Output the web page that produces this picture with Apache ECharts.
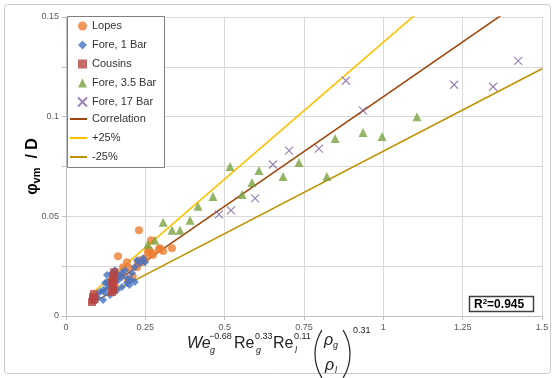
<!DOCTYPE html>
<html>
<head>
<meta charset="utf-8">
<script src="https://cdn.jsdelivr.net/npm/echarts@6/dist/echarts.min.js"></script>
<style>
  html, body { margin: 0; padding: 0; background: #fff; }
  #chart { width: 555px; height: 378px; }
</style>
</head>
<body>
<div id="chart"></div>
<script>
// data: [x, phi/D]
var lopes = [[0.149,0.013],[0.154,0.015],[0.17,0.0205],[0.18,0.0245],[0.195,0.018],[0.192,0.027],
  [0.164,0.030],[0.2,0.024],[0.224,0.0245],[0.227,0.027],[0.233,0.028],[0.23,0.043],[0.252,0.029],
  [0.258,0.032],[0.262,0.033],[0.268,0.038],[0.271,0.0316],[0.274,0.0306],[0.293,0.0336],
  [0.306,0.0326],[0.296,0.034],[0.334,0.034],[0.21,0.020],[0.24,0.027]];
var fore1 = [[0.10,0.009],[0.107,0.012],[0.117,0.008],[0.117,0.013],[0.123,0.0115],[0.123,0.0166],
  [0.129,0.0206],[0.129,0.017],[0.132,0.014],[0.139,0.0105],[0.145,0.0216],[0.148,0.018],[0.154,0.023],
  [0.161,0.0206],[0.161,0.013],[0.176,0.0196],[0.176,0.0146],[0.176,0.0216],[0.186,0.023],[0.192,0.0166],
  [0.195,0.019],[0.2,0.0156],[0.205,0.018],[0.208,0.0216],[0.217,0.0246],[0.217,0.017],[0.224,0.028],
  [0.233,0.0266],[0.243,0.029],[0.249,0.027],[0.14,0.016],[0.165,0.018]];
var cousins = [[0.082,0.007],[0.085,0.008],[0.085,0.0095],[0.088,0.011],[0.09,0.0085],[0.145,0.012],
  [0.148,0.014],[0.148,0.016],[0.15,0.018],[0.148,0.02],[0.152,0.022],[0.145,0.017],[0.15,0.013]];
var fore35 = [[0.258,0.036],[0.28,0.038],[0.306,0.047],[0.334,0.043],[0.359,0.043],[0.391,0.048],
  [0.416,0.055],[0.463,0.06],[0.517,0.075],[0.555,0.061],[0.586,0.067],[0.608,0.073],[0.684,0.070],
  [0.734,0.077],[0.822,0.070],[0.848,0.089],[0.936,0.092],[0.996,0.090],[1.106,0.100]];
var fore17 = [[0.482,0.051],[0.52,0.053],[0.596,0.059],[0.652,0.076],[0.703,0.083],[0.797,0.084],
  [0.882,0.118],[0.936,0.103],[1.223,0.116],[1.346,0.115],[1.425,0.128]];
var correlation = [[0.08,0.0088],[1.5,0.165]];
var plus25 = [[0.08,0.011],[1.5,0.206]];
var minus25 = [[0.08,0.0066],[1.5,0.124]];

var font = 'Liberation Sans, Arial, sans-serif';
var crossPath = 'path://M0,0L10,10M10,0L0,10';

var chart = echarts.init(document.getElementById('chart'));

function scatter(name, data, symbol, size, color) {
  return {
    name: name, type: 'scatter', data: data, symbol: symbol, symbolSize: size,
    itemStyle: { color: color }
  };
}
function line(name, data, color) {
  return {
    name: name, type: 'line', data: data, symbol: 'none', clip: true,
    lineStyle: { color: color, width: 1.6 }, itemStyle: { color: color }, z: 1
  };
}
// small helper for the pieces of the x axis formula
function txt(s, x, y, f) {
  return { type: 'text', x: x, y: y, silent: true,
    style: { text: s, font: f + ' ' + font, fill: '#222', verticalAlign: 'top', align: 'left' } };
}

var legendText = { fontSize: 11, color: '#333', fontFamily: font, lineHeight: 14 };

option = {
  animation: false,
  textStyle: { fontFamily: font },
  grid: { left: 66, right: 13, top: 17, bottom: 62 },
  legend: [{
    orient: 'vertical', left: 77, top: 19, padding: 0,
    itemGap: 5, itemWidth: 9, itemHeight: 9,
    textStyle: legendText,
    data: ['Lopes', 'Fore, 1 Bar', 'Cousins', 'Fore, 3.5 Bar', 'Fore, 17 Bar']
  }, {
    orient: 'vertical', left: 70, top: 112, padding: 0,
    itemGap: 5, itemWidth: 17, itemHeight: 2, icon: 'rect',
    textStyle: legendText,
    data: ['Correlation', '+25%', '-25%']
  }],
  xAxis: {
    type: 'value', min: 0, max: 1.5, interval: 0.25,
    axisLine: { lineStyle: { color: '#bfbfbf' } },
    axisTick: { show: true, length: 4, lineStyle: { color: '#bfbfbf' } },
    axisLabel: { fontSize: 9, color: '#595959', margin: 7 },
    splitLine: { lineStyle: { color: '#d9d9d9' } }
  },
  yAxis: {
    type: 'value', min: 0, max: 0.15, interval: 0.025,
    axisLine: { show: true, lineStyle: { color: '#bfbfbf' } },
    axisTick: { show: true, length: 4, lineStyle: { color: '#bfbfbf' } },
    axisLabel: {
      fontSize: 9, color: '#595959', margin: 7,
      formatter: function (v) {
        return Math.round(v * 1000) % 50 === 0 ? String(Math.round(v * 100) / 100) : '';
      }
    },
    splitLine: { lineStyle: { color: '#d9d9d9' } },
    name: '{a|φ}{s|vm}{a|  / D}', nameLocation: 'middle', nameGap: 24, nameMoveOverlap: false,
    nameTextStyle: {
      rich: {
        a: { fontSize: 16, fontWeight: 'bold', color: '#000', fontFamily: font },
        s: { fontSize: 11, fontWeight: 'bold', color: '#000', fontFamily: font, padding: [8, 0, 0, 0] }
      }
    }
  },
  graphic: [
    { type: 'rect', shape: { x: 4.5, y: 4.5, width: 546, height: 369, r: 3 },
      style: { fill: 'none', stroke: '#c8c8c8', lineWidth: 1 }, silent: true, z: -10 },
    // legend frame
    { type: 'rect', shape: { x: 67.5, y: 16.5, width: 97, height: 151 },
      style: { fill: '#fff', stroke: '#7f7f7f', lineWidth: 1 }, silent: true, z: 3 },
    { type: 'rect', shape: { x: 469.5, y: 296.5, width: 64, height: 15 },
      style: { fill: '#fff', stroke: '#404040', lineWidth: 1.5 }, z: 100 },
    { type: 'text', left: 474, top: 298, z: 101,
      style: { text: '{a|R}{s|2}{a|=0.945}', fontFamily: font,
        rich: { a: { fontSize: 12, fontWeight: 'bold', fill: '#000' },
                s: { fontSize: 8, fontWeight: 'bold', fill: '#000', padding: [0, 0, 6, 0] } } } },
    // x axis title
    txt('We', 187, 336, 'italic 16px'),
    txt('−0.68', 209, 332, '9px'),
    txt('g', 210, 346, 'italic 9px'),
    txt('Re', 234, 336, '16px'),
    txt('0.33', 255, 332, '9px'),
    txt('g', 256, 346, 'italic 9px'),
    txt('Re', 273, 336, '16px'),
    txt('0.11', 294, 332, '9px'),
    txt('l', 295, 346, 'italic 9px'),
    { type: 'arc', silent: true, shape: { cx: 360, cy: 354, r: 45, startAngle: Math.PI - 0.56, endAngle: Math.PI + 0.56 },
      style: { stroke: '#222', lineWidth: 1.2, fill: 'none' } },
    txt('ρ', 324, 333, 'italic 16px'),
    txt('g', 333, 341, 'italic 9px'),
    txt('ρ', 325, 358, 'italic 16px'),
    txt('l', 335, 366, 'italic 9px'),
    { type: 'arc', silent: true, shape: { cx: 305, cy: 354, r: 45, startAngle: -0.56, endAngle: 0.56 },
      style: { stroke: '#222', lineWidth: 1.2, fill: 'none' } },
    txt('0.31', 353, 326, '9px')
  ],
  series: [
    line('Correlation', correlation, '#9e480e'),
    line('+25%', plus25, '#ffc000'),
    line('-25%', minus25, '#bf9000'),
    scatter('Lopes', lopes, 'circle', 8, '#ed7d31'),
    scatter('Fore, 1 Bar', fore1, 'diamond', 8, '#4472c4'),
    scatter('Cousins', cousins, 'rect', 8, '#b84542'),
    scatter('Fore, 3.5 Bar', fore35, 'triangle', 9, '#79a33f'),
    {
      name: 'Fore, 17 Bar', type: 'scatter', data: fore17, symbol: crossPath, symbolSize: 8,
      itemStyle: { color: 'transparent', borderColor: '#8064a2', borderWidth: 1.2 }
    }
  ]
};
chart.setOption(option);
</script>
</body>
</html>
